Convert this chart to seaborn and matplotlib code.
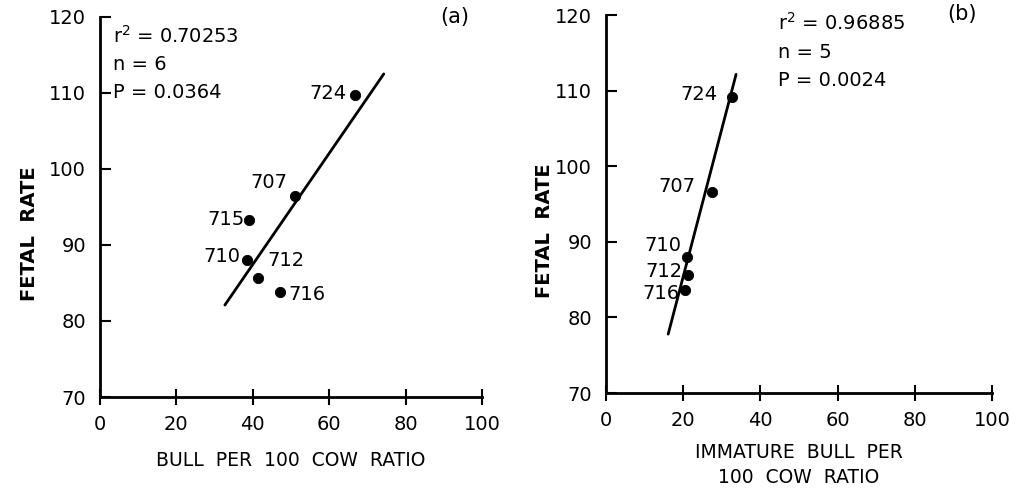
import matplotlib
matplotlib.use("Agg")
import matplotlib.pyplot as plt
import seaborn as sns
import pandas as pd

# ---- data ----
a_ids = ["724", "707", "715", "710", "712", "716"]
a_x = [66.8, 51.0, 39.0, 38.5, 41.4, 47.1]
a_y = [109.7, 96.4, 93.3, 88.0, 85.6, 83.8]
a_fit_x = [32.7, 74.3]
a_fit_y = [82.1, 112.5]

b_ids = ["724", "707", "710", "712", "716"]
b_x = [32.6, 27.5, 21.0, 21.2, 20.5]
b_y = [109.2, 96.6, 88.0, 85.6, 83.6]
b_fit_x = [16.1, 33.7]
b_fit_y = [77.8, 112.2]

x_ticks = [0, 20, 40, 60, 80, 100]
y_ticks = [70, 80, 90, 100, 110, 120]

a_stats = "r$^2$ = 0.70253\nn = 6\nP = 0.0364"
b_stats = "r$^2$ = 0.96885\nn = 5\nP = 0.0024"

sns.set_theme(style="ticks")
plt.rcParams['font.family'] = ['DejaVu Sans']
for k in ["text.color", "axes.labelcolor", "xtick.color", "ytick.color", "axes.edgecolor"]:
    plt.rcParams[k] = "black"

fig = plt.figure(figsize=(10.17, 4.93), dpi=100)
axA = fig.add_axes([0.0983, 0.1947, 0.3756, 0.771])
axB = fig.add_axes([0.5959, 0.2028, 0.3795, 0.766])

label_off_a = {"724": (-6, 1, "right", "center"),
               "707": (-5, 3, "right", "bottom"),
               "715": (-3, 0, "right", "center"),
               "710": (-5, 3, "right", "center"),
               "712": (7, 6, "left", "bottom"),
               "716": (6, -2, "left", "center")}
label_off_b = {"724": (-10, 2, "right", "center"),
               "707": (-12, 4, "right", "center"),
               "710": (-4, 8, "right", "center"),
               "712": (-4, 3, "right", "center"),
               "716": (-4, -2, "right", "center")}

def panel(ax, ids, xs, ys, fx, fy, offs, stats, stats_xy, tag, tag_xy, xlabel,
          xlab_pad, ylab_xy):
    df = pd.DataFrame({"x": xs, "y": ys, "id": ids})
    fit = pd.DataFrame({"x": fx, "y": fy})
    sns.lineplot(data=fit, x="x", y="y", ax=ax, color="black", lw=2.0)
    sns.scatterplot(data=df, x="x", y="y", ax=ax, color="black", s=55,
                    edgecolor="black", zorder=3)
    for i, xv, yv in zip(ids, xs, ys):
        dx, dy, ha, va = offs[i]
        ax.annotate(i, (xv, yv), xytext=(dx, dy), textcoords="offset points",
                    ha=ha, va=va, fontsize=14)
    ax.set_xlim(0, 100)
    ax.set_ylim(70, 120)
    ax.set_xticks(x_ticks)
    ax.set_yticks(y_ticks)
    ax.tick_params(axis="x", direction="inout", length=12, width=1.5,
                   labelsize=14, pad=7)
    ax.tick_params(axis="y", direction="in", length=8, width=1.5,
                   labelsize=14, pad=10)
    for s in ["top", "right"]:
        ax.spines[s].set_visible(False)
    for s in ["left", "bottom"]:
        ax.spines[s].set_linewidth(2.0)
    ax.set_xlabel(xlabel, fontsize=13.5, labelpad=xlab_pad, linespacing=1.45)
    ax.set_ylabel("FETAL  RATE", fontsize=14, fontweight="bold")
    ax.yaxis.set_label_coords(ylab_xy[0], ylab_xy[1])
    ax.text(stats_xy[0], stats_xy[1], stats, transform=ax.transAxes,
            fontsize=14, va="top", ha="left", linespacing=1.6)
    ax.text(tag_xy[0], tag_xy[1], tag, transform=ax.transAxes,
            fontsize=15, va="top", ha="left")

panel(axA, a_ids, a_x, a_y, a_fit_x, a_fit_y, label_off_a, a_stats,
      (0.035, 0.98), "(a)", (0.89, 1.025), "BULL  PER  100  COW  RATIO", 12,
      (-0.16, 0.43))
panel(axB, b_ids, b_x, b_y, b_fit_x, b_fit_y, label_off_b, b_stats,
      (0.445, 1.008), "(b)", (0.885, 1.03), "IMMATURE  BULL  PER\n100  COW  RATIO", 9,
      (-0.135, 0.43))

fig.savefig("out.png", dpi=100)
